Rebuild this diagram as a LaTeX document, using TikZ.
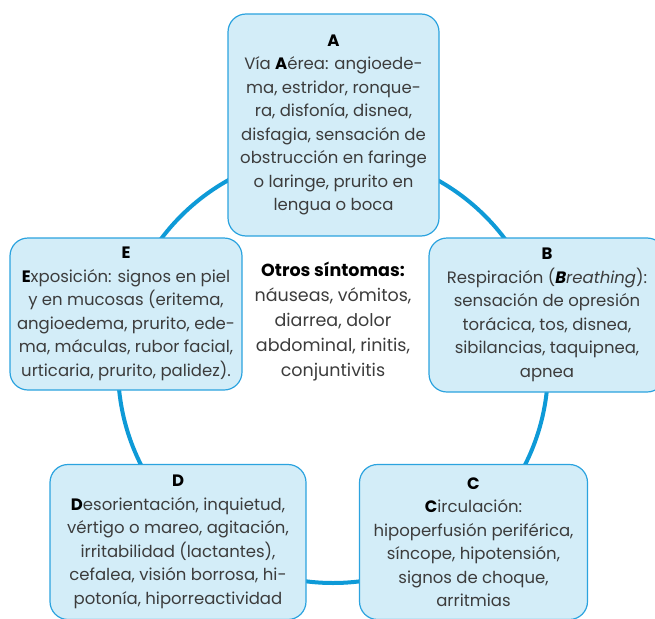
\documentclass[tikz,border=0pt]{standalone}
\usepackage{fontspec}
\setmainfont{Poppins}
\definecolor{anillo}{HTML}{0E9AD7}
\definecolor{borde}{HTML}{2BA3DF}
\definecolor{relleno}{HTML}{D3EDF8}
\definecolor{texto}{HTML}{3C3C3C}
\newcommand{\letraini}[1]{\textcolor{black}{\textbf{#1}}}
\begin{document}
\begin{tikzpicture}[x=1pt,y=-1pt,
  caja/.style={draw=borde, line width=1.2pt, fill=relleno, rounded corners=18pt,
    text=texto, align=center, inner sep=0pt, font=\fontsize{16.5}{23.5}\selectfont}]
\clip (0,0) rectangle (655,618);
\draw[anillo, line width=4pt] (333,368) circle[radius=215];
\node[caja, minimum width=211pt, minimum height=222pt] (viaA) at (333.5,125)
  {\letraini{A}\\V\'ia \letraini{A}\'erea: angioede-\\ma, estridor, ronque-\\ra, disfon\'ia, disnea,\\
   disfagia, sensaci\'on de\\obstrucci\'on en faringe\\o laringe, prurito en\\lengua o boca};
\node[caja, minimum width=236pt, minimum height=154pt] (respB) at (547,315)
  {\letraini{B}\\Respiraci\'on (\textit{\letraini{B}reathing}):\\sensaci\'on de opresi\'on\\
   tor\'acica, tos, disnea,\\sibilancias, taquipnea,\\apnea};
\node[caja, minimum width=228pt, minimum height=155pt] (circC) at (473.5,542)
  {\letraini{C}\\\letraini{C}irculaci\'on:\\hipoperfusi\'on perif\'erica,\\s\'incope, hipotensi\'on,\\
   signos de choque,\\arritmias};
\node[caja, minimum width=256pt, minimum height=155pt] (desD) at (178,542)
  {\letraini{D}\\\letraini{D}esorientaci\'on, inquietud,\\v\'ertigo o mareo, agitaci\'on,\\
   irritabilidad (lactantes),\\cefalea, visi\'on borrosa, hi-\\poton\'ia, hiporreactividad};
\node[caja, minimum width=232pt, minimum height=152pt] (expE) at (126,314)
  {\letraini{E}\\\letraini{E}xposici\'on: signos en piel\\y en mucosas (eritema,\\
   angioedema, prurito, ede-\\ma, m\'aculas, rubor facial,\\urticaria, prurito, palidez).};
\node[align=center, text=texto, font=\fontsize{17.5}{25}\selectfont] (otros) at (333,322)
  {\letraini{Otros s\'intomas:}\\n\'auseas, v\'omitos,\\diarrea, dolor\\abdominal, rinitis,\\conjuntivitis};
\end{tikzpicture}
\end{document}
